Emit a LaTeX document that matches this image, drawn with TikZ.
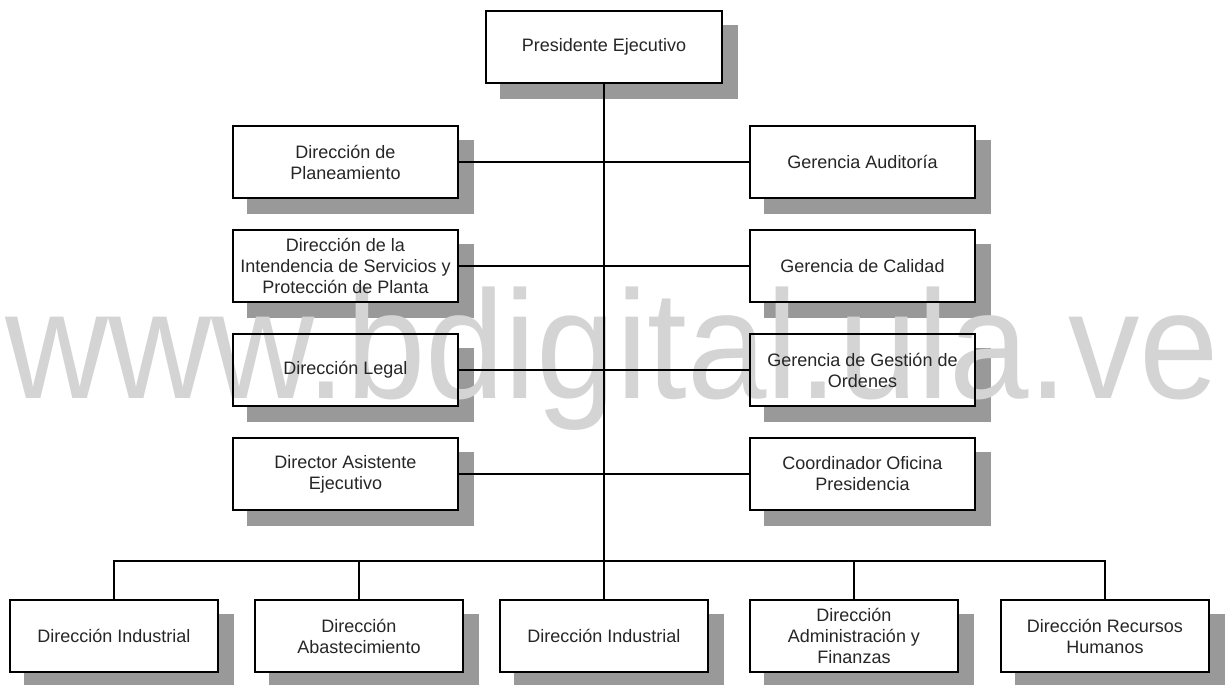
\documentclass[tikz,border=0pt]{standalone}
\usepackage{fontspec}
\setmainfont{Liberation Sans}
\pgfdeclarelayer{shadowlayer}
\pgfdeclarelayer{marklayer}
\pgfsetlayers{shadowlayer,marklayer,main}
\begin{document}
\begin{tikzpicture}[x=1pt,y=-1pt,
  unitbox/.style={draw=black, line width=2pt, inner sep=0pt, align=center,
    text=black!85, font=\fontsize{18}{21}\selectfont},
  sidebox/.style={unitbox, minimum width=225pt, minimum height=72pt},
  basebox/.style={unitbox, minimum width=208pt, minimum height=72pt},
  link/.style={draw=black, line width=2pt},
  shadowfill/.style={fill=black!40},
  markfont/.style={text=black!17, inner sep=0pt, anchor=base west,
    font=\fontsize{154}{154}\selectfont}]
\useasboundingbox (0,0) rectangle (1227,685);

% top of the chart
\node[unitbox, minimum width=236pt, minimum height=72pt] (pres) at (604,47) {Presidente Ejecutivo};

% staff units, left column
\node[sidebox] (l1) at (345.5,162) {Dirección de\\Planeamiento};
\node[sidebox] (l2) at (345.5,266) {Dirección de la\\Intendencia de Servicios y\\Protección de Planta};
\node[sidebox] (l3) at (345.5,370) {Dirección Legal};
\node[sidebox] (l4) at (345.5,474) {Director Asistente\\Ejecutivo};

% staff units, right column
\node[sidebox] (r1) at (862.5,162) {Gerencia Auditoría};
\node[sidebox] (r2) at (862.5,266) {Gerencia de Calidad};
\node[sidebox] (r3) at (862.5,370) {Gerencia de Gestión de\\Ordenes};
\node[sidebox] (r4) at (862.5,474) {Coordinador Oficina\\Presidencia};

% line directorates
\node[basebox] (b1) at (114,636) {Dirección Industrial};
\node[basebox] (b2) at (359,636) {Dirección\\Abastecimiento};
\node[basebox] (b3) at (604,636) {Dirección Industrial};
\node[basebox] (b4) at (854,636) {Dirección\\Administración y\\Finanzas};
\node[basebox] (b5) at (1105,636) {Dirección Recursos\\Humanos};

% drop shadows and white box bodies
\begin{pgfonlayer}{shadowlayer}
  \foreach \n in {pres,l1,l2,l3,l4,r1,r2,r3,r4,b1,b2,b3,b4,b5}{
    \fill[shadowfill] ([shift={(15,15)}]\n.north west) rectangle ([shift={(15,15)}]\n.south east);
    \fill[white] (\n.north west) rectangle (\n.south east);
  }
\end{pgfonlayer}

% site mark
\begin{pgfonlayer}{marklayer}
  \node[markfont, xscale=0.927] (mark) at (5,398) {www.bdigital.ula.ve};
\end{pgfonlayer}

% connectors
\coordinate (bus) at (604,561);
\draw[link] (pres.south) -- (bus);
\foreach \i in {1,2,3,4}{
  \draw[link] (l\i.east) -- (r\i.west);
}
\draw[link] (b1.north) -- (b1.north |- bus) -- (b5.north |- bus) -- (b5.north);
\foreach \n in {b2,b3,b4}{
  \draw[link] (\n.north) -- (\n.north |- bus);
}
\end{tikzpicture}
\end{document}
